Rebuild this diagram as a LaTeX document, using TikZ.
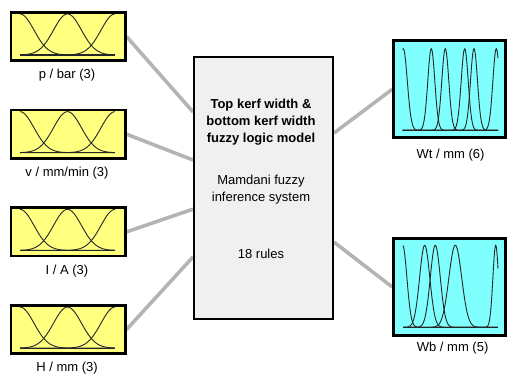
\documentclass[tikz,border=0pt]{standalone}
\usepackage{fontspec}
\setmainfont{Liberation Sans}
\usetikzlibrary{backgrounds,calc}

\definecolor{inyellow}{RGB}{255,255,128}
\definecolor{outcyan}{RGB}{128,255,255}
\definecolor{modelgray}{RGB}{240,240,240}
\definecolor{linkgray}{RGB}{180,180,180}

\tikzset{
  inbox/.style={draw=black, line width=2.7pt, fill=inyellow, inner sep=0pt,
    minimum width=114.3pt, minimum height=48.4pt},
  outbox/.style={draw=black, line width=3pt, fill=outcyan, inner sep=0pt,
    minimum width=111.7pt, minimum height=97pt},
  modelbox/.style={draw=black, line width=2.3pt, fill=modelgray, inner sep=0pt,
    minimum width=138.6pt, minimum height=261.6pt},
  lbl/.style={font=\fontsize{13}{15}\selectfont, inner sep=0pt},
  modeltxt/.style={font=\fontsize{13}{17}\selectfont, align=center, inner sep=0pt},
  link/.style={draw=linkgray, line width=3.6pt},
  mf/.style={draw=black!85, line width=0.9pt},
  base/.style={draw=black!85, line width=1.1pt}
}

% one Gaussian membership curve: centre, sigma, height, baseline, domain start, domain end
\newcommand\gausscurve[6]{%
  \draw[mf] plot[domain=#5:#6, samples=240, smooth]
    (\x, {#4 - #3*exp(-((\x-(#1))^2)/(2*(#2)*(#2)))});%
}

\begin{document}
\begin{tikzpicture}[x=1pt, y=-1pt]
\useasboundingbox (0,0) rectangle (507,379);

% input variables
\node[inbox] (in1) at (68,36.5)  {};
\node[inbox] (in2) at (68,134.2) {};
\node[inbox] (in3) at (68,231.9) {};
\node[inbox] (in4) at (68,329.6) {};

\node[lbl] (lab1) at ($(in1.center)+(-1,39)$) {p / bar (3)};
\node[lbl] (lab2) at ($(in2.center)+(-1,39)$) {v / mm/min (3)};
\node[lbl] (lab3) at ($(in3.center)+(-1,39)$) {I / A (3)};
\node[lbl] (lab4) at ($(in4.center)+(-1,39)$) {H / mm (3)};

% three overlapping sets per input
\foreach \n in {in1,in2,in3,in4}{
  \begin{scope}[shift={(\n.center)}]
    \draw[base] (-48,18.5) -- (47,18.5);
    \gausscurve{-48}{14}{41}{18.5}{-48}{47}
    \gausscurve{-0.5}{14}{41}{18.5}{-48}{47}
    \gausscurve{47}{14}{41}{18.5}{-48}{47}
  \end{scope}
}

% fuzzy model
\node[modelbox] (model) at (263.5,188) {};
\node[modeltxt, font=\fontsize{13}{17}\selectfont\bfseries] (title) at (261,122)
  {Top kerf width \&\\bottom kerf width\\fuzzy logic model};
\node[modeltxt] (fis) at (261,190) {Mamdani fuzzy\\ inference system};
\node[modeltxt] (rules) at (261,254) {18 rules};

% output variables
\node[outbox] (wt) at (449.6,89.3) {};
\node[outbox, minimum height=97.6pt] (wb) at (449.6,287) {};

\node[lbl] (labwt) at ($(wt.center)+(1,66)$) {Wt / mm (6)};
\node[lbl] (labwb) at ($(wb.center)+(3,61)$) {Wb / mm (5)};

\begin{scope}[shift={(wt.center)}]
  \draw[base] (-46.9,41) -- (48.4,41);
  \gausscurve{-46.3}{4}{81.6}{41}{-46.9}{48.4}
  \gausscurve{-18.3}{3.5}{81.6}{41}{-46.9}{48.4}
  \gausscurve{-4.3}{3.5}{81.6}{41}{-46.9}{48.4}
  \gausscurve{15.1}{3.5}{81.6}{41}{-46.9}{48.4}
  \gausscurve{24.4}{3.5}{81.6}{41}{-46.9}{48.4}
  \gausscurve{46.7}{3.4}{81.6}{41}{-46.9}{48.4}
\end{scope}

\begin{scope}[shift={(wb.center)}]
  \draw[base] (-46.6,40.3) -- (48.4,40.3);
  \gausscurve{-46.9}{4.2}{82}{40.3}{-46.6}{48.4}
  \gausscurve{-24.9}{5.1}{82}{40.3}{-46.6}{48.4}
  \gausscurve{-14.3}{5}{82}{40.3}{-46.6}{48.4}
  \gausscurve{5.7}{6.4}{82}{40.3}{-46.6}{48.4}
  \gausscurve{46.1}{2.8}{82}{40.3}{-46.6}{48.4}
\end{scope}

% connectors behind the boxes
\begin{pgfonlayer}{background}
  \draw[link] (in1.east) -- ($(model.north west)!0.212!(model.south west)$);
  \draw[link] (in2.east) -- ($(model.north west)!0.394!(model.south west)$);
  \draw[link] (in3.east) -- ($(model.north west)!0.580!(model.south west)$);
  \draw[link] (in4.east) -- ($(model.north west)!0.761!(model.south west)$);
  \draw[link] ($(model.north east)!0.292!(model.south east)$) -- (wt.west);
  \draw[link] ($(model.north east)!0.705!(model.south east)$) -- (wb.west);
\end{pgfonlayer}
\end{tikzpicture}
\end{document}
